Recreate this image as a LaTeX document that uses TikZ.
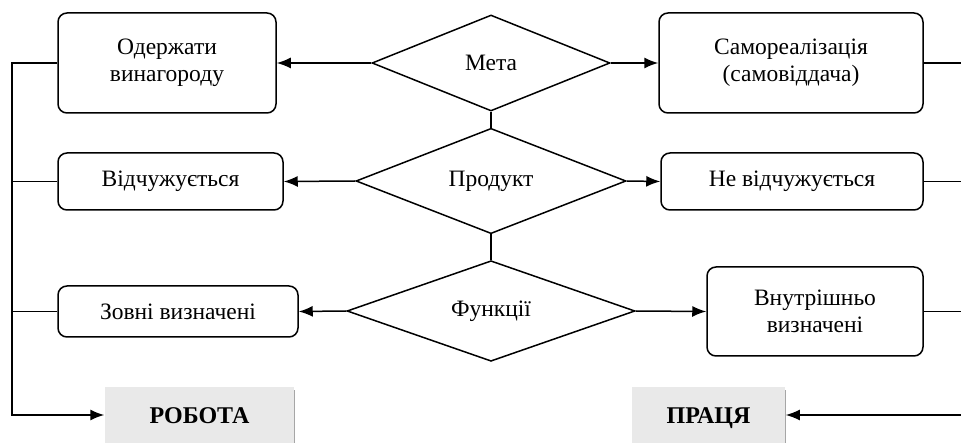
\documentclass[tikz,border=0pt]{standalone}
\usepackage{fontspec}
\setmainfont{Liberation Serif}
\usetikzlibrary{calc,arrows.meta,shapes.geometric}

\begin{document}
\begin{tikzpicture}[x=1pt,y=-1pt,line width=1.5pt,>={Latex[length=14pt,width=11pt]},
    every node/.style={font=\fontsize{23.5}{27}\selectfont},
    rbox/.style={draw,rounded corners=9pt,align=center,inner sep=0pt},
    dmd/.style={draw,diamond,inner sep=0pt,minimum height=96pt},
    res/.style={fill=gray!17,inner sep=0pt,minimum height=56pt,text height=16.5pt,text depth=0pt,font=\fontsize{24}{28}\selectfont\bfseries}]
\useasboundingbox (0,0) rectangle (961,443);
                      % diamonds
                      \node[dmd,minimum width=238pt] (m1) at (491,63) {Мета};
                      \node[dmd,minimum width=270pt] (m2) at (491,181) {Продукт};
                      \node[dmd,minimum width=288pt] (m3) at (491,311) {Функції};

                      % left column
                      \node[rbox,minimum width=218pt,minimum height=100pt] (l1) at (167,63) {Одержати\\винагороду};
                      \node[rbox,minimum width=225pt,minimum height=57pt] (l2) at (170.5,181.5) {Відчужується};
                      \node[rbox,minimum width=240pt,minimum height=51pt] (l3) at (178,311.5) {Зовні визначені};

                      % right column
                      \node[rbox,minimum width=264pt,minimum height=100pt] (r1) at (791,63) {Самореалізація\\(самовіддача)};
                      \node[rbox,minimum width=262pt,minimum height=57pt] (r2) at (792,181.5) {Не відчужується};
                      \node[rbox,minimum width=216pt,minimum height=89pt] (r3) at (815,311.5) {Внутрішньо\\визначені};

                      % results
                      \node[res,minimum width=189pt] (robota) at (199.5,415) {РОБОТА};
                      \node[res,minimum width=153pt] (pratsia) at (708.5,415) {ПРАЦЯ};
                      \draw[gray!70,line width=1.3pt] ([yshift=-4pt]robota.north east) -- (robota.south east);
                      \draw[gray!70,line width=1.3pt] ([yshift=-4pt]pratsia.north east) -- (pratsia.south east);

                      \coordinate (lx) at (12,415);
                      \coordinate (rx) at (961,415);

                      \draw (m1.south) -- (m2.north);
                      \draw (m2.south) -- (m3.north);
                      \draw[->] (m1.west) -- (l1.east);
                      \draw[->] (m2.west) -- (l2.east);
                      \draw[->] (m3.west) -- (l3.east);
                      \draw[->] (m1.east) -- (r1.west);
                      \draw[->] (m2.east) -- (r2.west);
                      \draw[->] (m3.east) -- (r3.west);

                      \draw[->] (l1.west) -| (lx) -- (robota.west);
                      \draw (l2.west) -- (l2.west -| lx);
                      \draw (l3.west) -- (l3.west -| lx);
                      \draw (r1.east) -- (r1.east -| rx);
                      \draw (r2.east) -- (r2.east -| rx);
                      \draw (r3.east) -- (r3.east -| rx);
                      \draw[->] (rx) -- (pratsia.east);
\end{tikzpicture}
\end{document}
